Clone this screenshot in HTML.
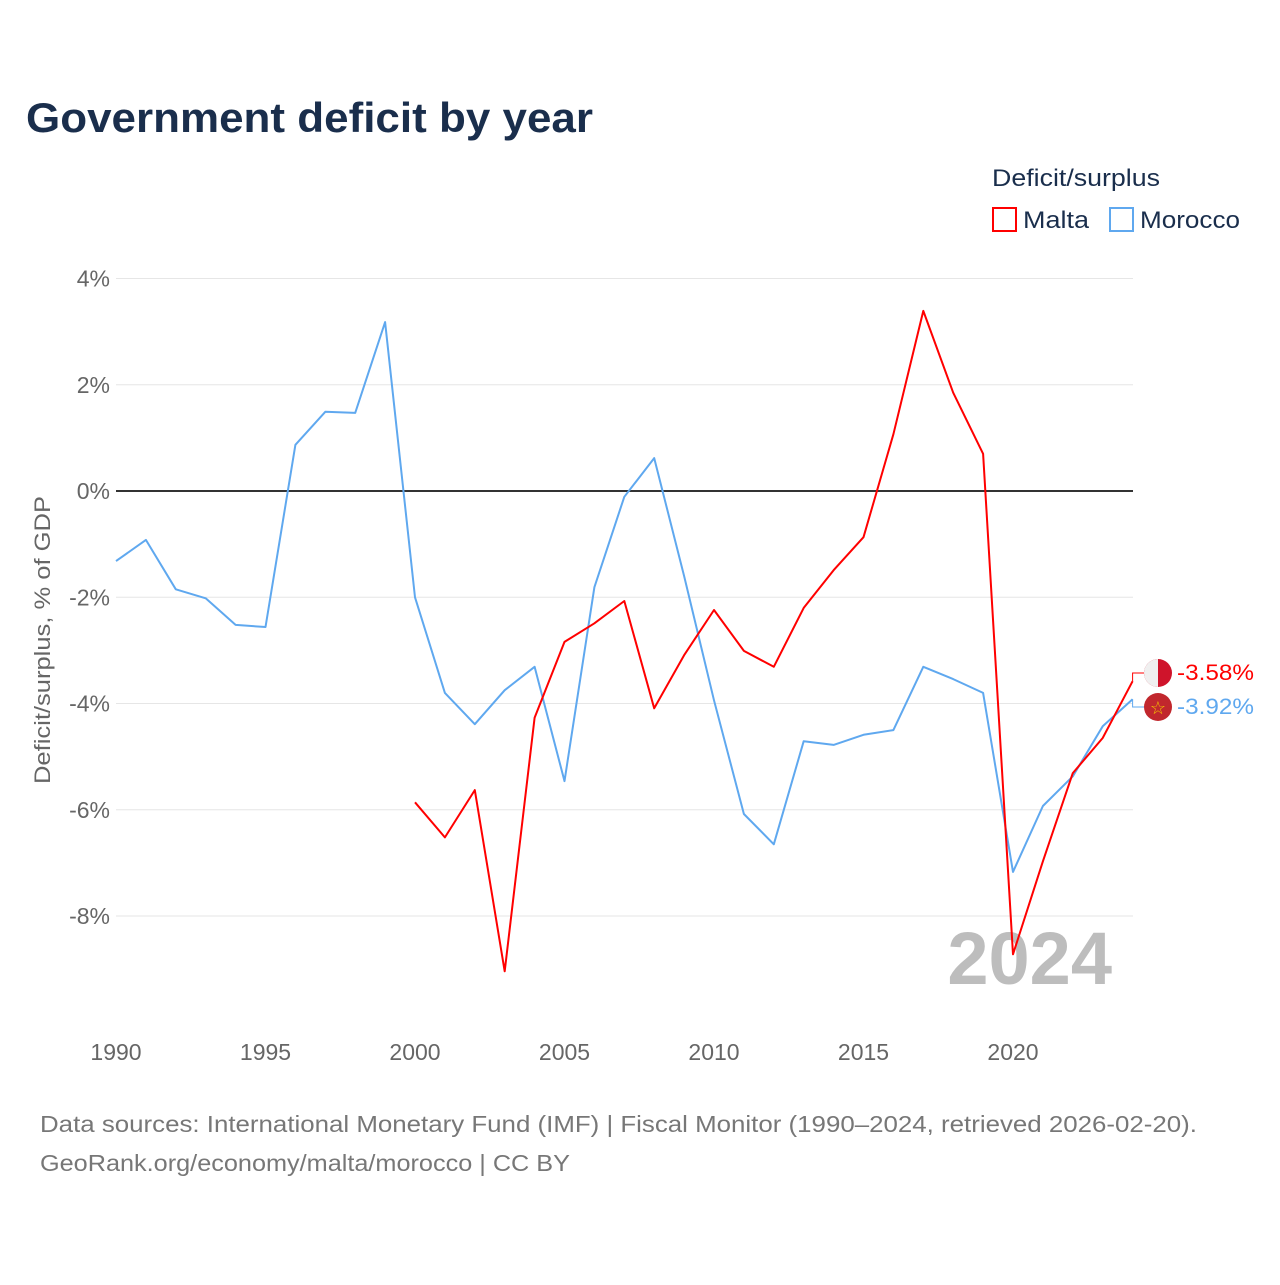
<!DOCTYPE html>
<html><head><meta charset="utf-8">
<style>
html,body{margin:0;padding:0;background:#fff;}
body{width:1280px;height:1280px;overflow:hidden;font-family:"Liberation Sans",sans-serif;}
</style></head>
<body>
<svg id="chart" width="1280" height="1280" viewBox="0 0 1280 1280" xmlns="http://www.w3.org/2000/svg" font-family="Liberation Sans, sans-serif">
<text x="26" y="132" font-size="42" font-weight="bold" fill="#1a2e4c" textLength="567" lengthAdjust="spacingAndGlyphs">Government deficit by year</text>
<g>
<text x="992" y="186" font-size="24" fill="#1a2e4c" textLength="168" lengthAdjust="spacingAndGlyphs">Deficit/surplus</text>
<rect x="993" y="208" width="23" height="23" fill="none" stroke="#ff0000" stroke-width="2"/>
<text x="1023" y="228" font-size="24" fill="#1a2e4c" textLength="66" lengthAdjust="spacingAndGlyphs">Malta</text>
<rect x="1110" y="208" width="23" height="23" fill="none" stroke="#5fa8ef" stroke-width="2"/>
<text x="1140" y="228" font-size="24" fill="#1a2e4c" textLength="100" lengthAdjust="spacingAndGlyphs">Morocco</text>
</g>
<text transform="translate(50,640) rotate(-90)" text-anchor="middle" font-size="22" fill="#666" textLength="288" lengthAdjust="spacingAndGlyphs">Deficit/surplus, % of GDP</text>
<g id="grid"></g>
<g id="xticks"></g>
<text x="1112" y="984" text-anchor="end" font-size="74" font-weight="bold" fill="#bdbdbd">2024</text>
<g id="series"></g>
<g id="endlabels"></g>
<text x="40" y="1132" font-size="23" fill="#777" textLength="1157" lengthAdjust="spacingAndGlyphs">Data sources: International Monetary Fund (IMF) | Fiscal Monitor (1990–2024, retrieved 2026-02-20).</text>
<text x="40" y="1171" font-size="23" fill="#777" textLength="530" lengthAdjust="spacingAndGlyphs">GeoRank.org/economy/malta/morocco | CC BY</text>
</svg>
<script>
const years = [];
for (let y = 1990; y <= 2024; y++) years.push(y);
const moroccoValues = [-1.32,-0.92,-1.85,-2.02,-2.52,-2.56,0.87,1.49,1.47,3.18,-2.0,-3.8,-4.39,-3.75,-3.31,-5.46,-1.81,-0.11,0.62,-1.6,-3.94,-6.08,-6.65,-4.71,-4.78,-4.59,-4.5,-3.31,-3.54,-3.8,-7.17,-5.93,-5.37,-4.43,-3.92];
const maltaValues = [null,null,null,null,null,null,null,null,null,null,-5.86,-6.52,-5.63,-9.04,-4.27,-2.84,-2.49,-2.07,-4.09,-3.09,-2.24,-3.01,-3.31,-2.2,-1.49,-0.87,1.07,3.39,1.85,0.70,-8.72,-6.97,-5.31,-4.65,-3.58];
const yTicks = [4,2,0,-2,-4,-6,-8];
const yTickLabels = ["4%","2%","0%","-2%","-4%","-6%","-8%"];
const xTicks = [1990,1995,2000,2005,2010,2015,2020];

const NS = "http://www.w3.org/2000/svg";
function xs(yr){ return 116 + (yr - 1990) * (1013 - 116) / 30; }
function ys(v){ return 491 - v * (916 - 491) / 8; }
function mk(tag, attrs, parent){ const e = document.createElementNS(NS, tag); for (const k in attrs) e.setAttribute(k, attrs[k]); parent.appendChild(e); return e; }

const grid = document.getElementById('grid');
yTicks.forEach((t, i) => {
  const l = mk('line', {x1: 116, x2: 1133, y1: ys(t), y2: ys(t), stroke: t === 0 ? '#333' : '#e6e6e6', 'stroke-width': t === 0 ? 2 : 1}, grid);
  
  
  const tx = mk('text', {x: 110, y: ys(t) + 8, 'text-anchor': 'end', 'font-size': 23, fill: '#666'}, grid);
  tx.textContent = yTickLabels[i];
  
  
});
const xt = document.getElementById('xticks');
xTicks.forEach(t => {
  const tx = mk('text', {x: xs(t), y: 1060, 'text-anchor': 'middle', 'font-size': 23, fill: '#666'}, xt);
  tx.textContent = t;
  
  
});
function path(vals){
  let d = '', pen = false;
  vals.forEach((v, i) => {
    if (v === null) { pen = false; return; }
    d += (pen ? 'L' : 'M') + xs(years[i]).toFixed(1) + ',' + ys(v).toFixed(1);
    pen = true;
  });
  return d;
}
const sg = document.getElementById('series');
const pm = mk('path', {d: path(moroccoValues), fill: 'none', stroke: '#5fa8ef', 'stroke-width': 2, 'stroke-linejoin': 'round'}, sg);


const pma = mk('path', {d: path(maltaValues), fill: 'none', stroke: '#ff0000', 'stroke-width': 2, 'stroke-linejoin': 'round'}, sg);



const el = document.getElementById('endlabels');
const lastX = xs(2024);
const mV = maltaValues[maltaValues.length - 1], oV = moroccoValues[moroccoValues.length - 1];
const c1 = mk('path', {d: `M${lastX},${ys(mV)} L${lastX},673 L1145,673`, fill: 'none', stroke: '#ff0000', 'stroke-width': 1}, el);


const f1 = mk('g', {}, el);


mk('circle', {cx: 1158, cy: 673, r: 14, fill: '#cf142b'}, f1);
mk('path', {d: 'M1158,659 A14,14 0 0 0 1158,687 Z', fill: '#f0f0f0'}, f1);
const t1 = mk('text', {x: 1177, y: 680, 'font-size': 22, fill: '#ff0000', textLength: 77, lengthAdjust: 'spacingAndGlyphs'}, el);
t1.textContent = mV.toFixed(2) + '%';


const c2 = mk('path', {d: `M${lastX},${ys(oV)} L${lastX},707 L1145,707`, fill: 'none', stroke: '#5fa8ef', 'stroke-width': 1}, el);


const f2 = mk('g', {}, el);


mk('circle', {cx: 1158, cy: 707, r: 14, fill: '#c1272d'}, f2);
const st = mk('text', {x: 1158, y: 714, 'text-anchor': 'middle', 'font-size': 18, fill: '#f5c400'}, f2);
st.textContent = '☆';
const t2 = mk('text', {x: 1177, y: 714, 'font-size': 22, fill: '#5fa8ef', textLength: 77, lengthAdjust: 'spacingAndGlyphs'}, el);
t2.textContent = oV.toFixed(2) + '%';


</script>
</body></html>
